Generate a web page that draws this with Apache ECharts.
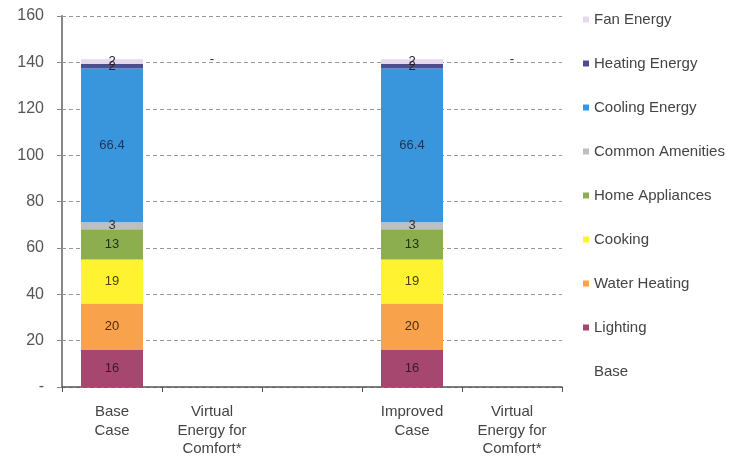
<!DOCTYPE html>
<html>
<head>
<meta charset="utf-8">
<script src="https://cdn.jsdelivr.net/npm/echarts@6/dist/echarts.min.js"></script>
<style>
  html, body { margin: 0; padding: 0; background: #fff; }
  #chart { width: 748px; height: 458px; }
</style>
</head>
<body>
<div id="chart"></div>
<script>
// categories on the x axis (one blank gap column)
var categories = ["Base\nCase", "Virtual\nEnergy for\nComfort*", "", "Improved\nCase", "Virtual\nEnergy for\nComfort*"];
var yTicks = [0, 20, 40, 60, 80, 100, 120, 140, 160];

// stacked values, bottom to top ('-' = no bar)
var base            = [0, 141.4, "-", 0, 141.4];
var lighting        = [16, "-", "-", 16, "-"];
var waterHeating    = [20, "-", "-", 20, "-"];
var cooking         = [19, "-", "-", 19, "-"];
var homeAppliances  = [13, "-", "-", 13, "-"];
var commonAmenities = [3, "-", "-", 3, "-"];
var coolingEnergy   = [66.4, "-", "-", 66.4, "-"];
var heatingEnergy   = [2, "-", "-", 2, "-"];
var fanEnergy       = [2, 0, "-", 2, 0];

var seriesNames = ["Base", "Lighting", "Water Heating", "Cooking", "Home Appliances",
  "Common Amenities", "Cooling Energy", "Heating Energy", "Fan Energy"];
var seriesData = [base, lighting, waterHeating, cooking, homeAppliances,
  commonAmenities, coolingEnergy, heatingEnergy, fanEnergy];
var seriesColors = ["rgba(0,0,0,0)", "#a5476e", "#f9a24c", "#fff230", "#8cae4f",
  "#bfbfbf", "#3a96dc", "#4b4f8e", "#e6d8ec"];
var labelColors = ["#333", "#3a1a2a", "#4a2a10", "#4a4210", "#23320f",
  "#333", "#1c3557", "#1c2240", "#222"];

var chart = echarts.init(document.getElementById("chart"));

var series = seriesNames.map(function (name, i) {
  return {
    name: name,
    type: "bar",
    stack: "total",
    barWidth: "62%",
    data: seriesData[i],
    itemStyle: { color: seriesColors[i] },
    label: {
      show: name !== "Base",
      position: "inside",
      color: labelColors[i],
      fontSize: 13,
      fontFamily: "Liberation Sans",
      formatter: function (p) {
        return p.value === 0 ? "-" : p.value;
      }
    },
    emphasis: { disabled: true }
  };
});

var option = {
  animation: false,
  backgroundColor: "#fff",
  grid: { left: 62, right: 186, top: 16, bottom: 71, outerBoundsMode: "none" },
  legend: {
    orient: "vertical",
    left: 578,
    top: 7,
    itemWidth: 6,
    itemHeight: 6,
    itemGap: 29,
    icon: "rect",
    data: seriesNames.slice().reverse(),
    textStyle: { color: "#444", fontSize: 15, fontFamily: "Liberation Sans" },
    selectedMode: false
  },
  xAxis: {
    type: "category",
    data: categories,
    axisLine: { lineStyle: { color: "#555", width: 1.5 } },
    axisTick: { show: true, length: 5, lineStyle: { color: "#555" } },
    axisLabel: {
      interval: 0,
      color: "#444",
      fontSize: 15,
      lineHeight: 18.5,
      margin: 16,
      fontFamily: "Liberation Sans"
    }
  },
  yAxis: {
    type: "value",
    min: yTicks[0],
    max: yTicks[yTicks.length - 1],
    interval: 20,
    axisLine: { show: true, lineStyle: { color: "#888", width: 2 } },
    axisTick: { show: true, length: 5, lineStyle: { color: "#888" } },
    axisLabel: {
      color: "#555",
      fontSize: 16,
      margin: 18,
      fontFamily: "Liberation Sans",
      formatter: function (v) { return v === 0 ? "-" : v; }
    },
    splitLine: { lineStyle: { color: "#999", type: [4, 3], width: 1 } }
  },
  series: series
};

chart.setOption(option);
window.addEventListener("resize", function () {
  chart.resize();
});
</script>
</body>
</html>
